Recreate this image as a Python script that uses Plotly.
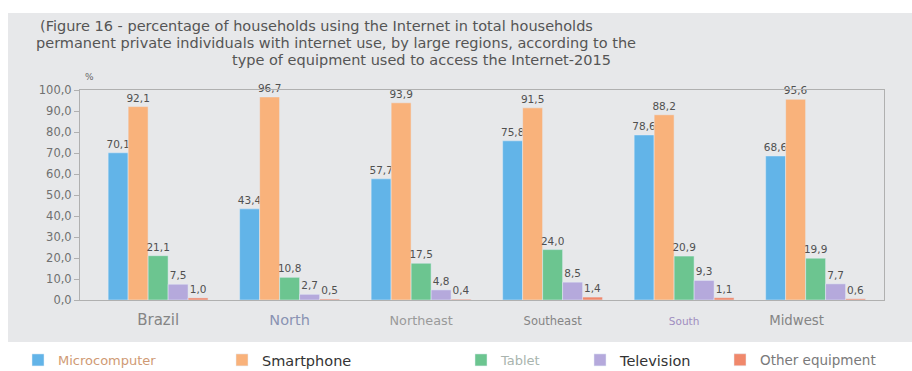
import plotly.graph_objects as go

regions = ["Brazil", "North", "Northeast", "Southeast", "South", "Midwest"]
microcomputer = [70.1, 43.4, 57.7, 75.8, 78.6, 68.6]
smartphone = [92.1, 96.7, 93.9, 91.5, 88.2, 95.6]
tablet = [21.1, 10.8, 17.5, 24.0, 20.9, 19.9]
television = [7.5, 2.7, 4.8, 8.5, 9.3, 7.7]
other = [1.0, 0.5, 0.4, 1.4, 1.1, 0.6]

series = [
    ("Microcomputer", microcomputer, "#62b4e8"),
    ("Smartphone", smartphone, "#f9b27b"),
    ("Tablet", tablet, "#6cc590"),
    ("Television", television, "#b5a9dc"),
    ("Other equipment", other, "#f0886b"),
]
yticks = [0, 10, 20, 30, 40, 50, 60, 70, 80, 90, 100]

W, H = 912, 371
L, R, T, B = 80, 28, 90, 71
FONT = "DejaVu Sans"

# legend styling per item (legend left px, font color, size)
legend_style = [
    (18, "#cf9a74", 13),
    (222, "#333333", 14.5),
    (461, "#a9b4ae", 13),
    (580, "#333333", 14.5),
    (720, "#7a7a7a", 13.5),
]

fig = go.Figure()
for i, (name, vals, col) in enumerate(series):
    lg = "legend" if i == 0 else f"legend{i+1}"
    fig.add_trace(go.Bar(
        x=regions, y=vals, name=name, marker_color=col,
        text=vals, texttemplate="%{y:.1f}", textposition="outside",
        constraintext="none",
        textfont=dict(size=10.5, color="#505050", family=FONT),
        cliponaxis=False, legend=lg,
    ))

pw = W - L - R
ph = H - T - B
def px_x(x):
    return (x - L) / pw
def px_y(y):
    return (H - B - y) / ph

shapes = [dict(type="rect", xref="paper", yref="paper",
               x0=px_x(8), x1=px_x(912), y0=px_y(342), y1=px_y(13),
               fillcolor="#e7e8ea", line=dict(width=0), layer="below")]

title_font = dict(size=14.5, color="#555555", family=FONT)
annotations = [
    dict(text="(Figure 16 - percentage of households using the Internet in total households",
         xref="paper", yref="paper", x=px_x(38), y=px_y(26), xanchor="left", yanchor="middle",
         showarrow=False, font=title_font),
    dict(text="permanent private individuals with internet use, by large regions, according to the",
         xref="paper", yref="paper", x=px_x(34), y=px_y(43), xanchor="left", yanchor="middle",
         showarrow=False, font=title_font),
    dict(text="type of equipment used to access the Internet-2015",
         xref="paper", yref="paper", x=px_x(421), y=px_y(60), xanchor="center", yanchor="middle",
         showarrow=False, font=title_font),
    dict(text="%", xref="paper", yref="paper", x=px_x(89), y=px_y(77), xanchor="center", yanchor="middle",
         showarrow=False, font=dict(size=9, color="#666666", family=FONT)),
]

tick_colors = ["#858585", "#8a93b3", "#9a9a9a", "#858585", "#a08dc0", "#858585"]
tick_sizes = [15, 14.5, 12.8, 11.5, 10.5, 13.3]
tick_pad = ["", "", "", "", "", "&nbsp;" * 9]
ticktext = [f"<span style='color:{c};font-size:{s}px'>{r}{p}</span>"
            for r, c, s, p in zip(regions, tick_colors, tick_sizes, tick_pad)]

layout_legends = {}
for i, (xp, col, sz) in enumerate(legend_style):
    key = "legend" if i == 0 else f"legend{i+1}"
    layout_legends[key] = dict(
        x=xp / W, y=(H - 360) / H, xref="container", yref="container",
        xanchor="left", yanchor="middle", orientation="h",
        bgcolor="rgba(0,0,0,0)", borderwidth=0,
        font=dict(size=sz, color=col, family=FONT),
        itemclick=False, itemdoubleclick=False,
    )

fig.update_layout(
    width=W, height=H,
    margin=dict(l=L, r=R, t=T, b=B),
    paper_bgcolor="white", plot_bgcolor="white",
    separators=",.",
    barmode="group", bargap=0.24, bargroupgap=0,
    shapes=shapes, annotations=annotations,
    showlegend=True,
    **layout_legends,
    xaxis=dict(
        type="category", range=[-0.594, 5.52],
        tickmode="array", tickvals=regions, ticktext=ticktext,
        showline=True, linecolor="#b0b0b0", linewidth=1, mirror=True,
        ticks="", showgrid=False, ticklabelstandoff=8,
        tickfont=dict(family=FONT, size=13, color="#858585"),
    ),
    yaxis=dict(
        range=[0, 100], tickvals=yticks, tickformat=".1f",
        showline=True, linecolor="#b0b0b0", linewidth=1, mirror=True,
        ticks="outside", ticklen=5, tickcolor="#b0b0b0",
        showgrid=False, zeroline=False,
        tickfont=dict(family=FONT, size=11.5, color="#707070"),
    ),
)

fig.write_html("out.html")
